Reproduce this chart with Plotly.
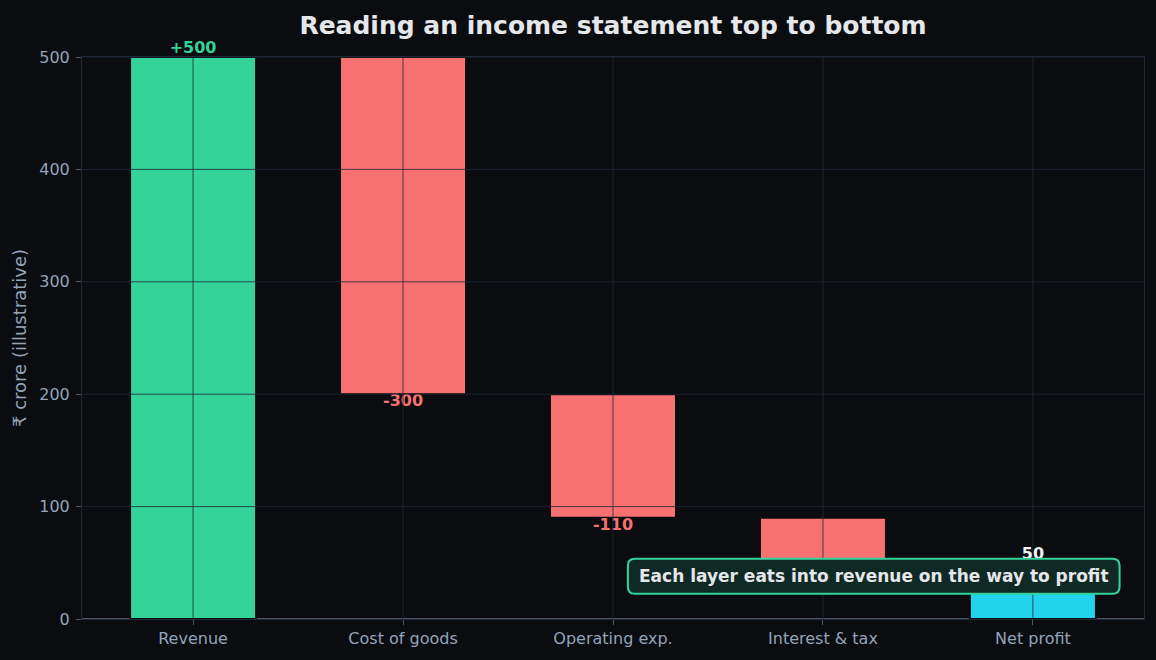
import plotly.graph_objects as go

categories = ["Revenue", "Cost of goods", "Operating exp.", "Interest & tax", "Net profit"]
values = [500, -300, -110, -40, 50]
measures = ["relative", "relative", "relative", "relative", "total"]
y_ticks = [0, 100, 200, 300, 400, 500]

BG = "#0b0c10"
GREEN = "#34d399"
RED = "#f87171"
CYAN = "#22d3ee"
GRID = "rgba(31,41,55,0.8)"
FONT = "DejaVu Sans"

labels, label_colors, label_y, label_pos = [], [], [], []
running = 0
for v, m in zip(values, measures):
    if m == "total":
        end = v
        labels.append(f"{v}")
        label_colors.append("#f1f5f9")
        label_pos.append("top center")
    else:
        end = running + v
        if v >= 0:
            labels.append(f"+{v}")
            label_colors.append(GREEN)
            label_pos.append("top center")
        else:
            labels.append(f"{v}")
            label_colors.append(RED)
            label_pos.append("bottom center")
    running = end
    label_y.append(end)

fig = go.Figure(go.Waterfall(
    x=categories,
    y=values,
    measure=measures,
    increasing=dict(marker=dict(color=GREEN, line=dict(color=BG, width=2))),
    decreasing=dict(marker=dict(color=RED, line=dict(color=BG, width=2))),
    totals=dict(marker=dict(color=CYAN, line=dict(color=BG, width=2))),
    connector=dict(visible=False),
    width=0.6,
    showlegend=False,
    hoverinfo="skip",
))
fig.add_trace(go.Scatter(
    x=categories, y=label_y, mode="text", text=labels, textposition=label_pos,
    textfont=dict(color=label_colors, size=16, family=FONT, weight="bold"),
    cliponaxis=False, showlegend=False, hoverinfo="skip",
))

# gridlines drawn above the bars
shapes = []
for t in y_ticks[1:]:
    shapes.append(dict(type="line", xref="paper", x0=0, x1=1, yref="y", y0=t, y1=t,
                       line=dict(color=GRID, width=1), layer="above"))
for c in categories:
    shapes.append(dict(type="line", xref="x", x0=c, x1=c, yref="paper", y0=0, y1=1,
                       line=dict(color=GRID, width=1), layer="above"))

# rounded callout box (paper coordinates)
bx0, bx1, by0, by1 = 0.514, 0.977, 0.045, 0.107
rx, ry = 0.0065, 0.0125
path = (f"M {bx0+rx},{by0} L {bx1-rx},{by0} Q {bx1},{by0} {bx1},{by0+ry} "
        f"L {bx1},{by1-ry} Q {bx1},{by1} {bx1-rx},{by1} "
        f"L {bx0+rx},{by1} Q {bx0},{by1} {bx0},{by1-ry} "
        f"L {bx0},{by0+ry} Q {bx0},{by0} {bx0+rx},{by0} Z")
shapes.append(dict(type="path", path=path, xref="paper", yref="paper",
                   fillcolor="#0f2a24", line=dict(color=GREEN, width=2), layer="above"))

fig.update_layout(
    width=1156, height=660,
    paper_bgcolor=BG, plot_bgcolor=BG,
    margin=dict(l=82, r=12, t=57, b=41),
    font=dict(family=FONT, color="#94a3b8", size=15),
    title=dict(text="<b>Reading an income statement top to bottom</b>",
               x=0.5, xref="paper", xanchor="center", y=1 - 25 / 660, yref="container",
               yanchor="middle", font=dict(size=25, color="#e5e7eb")),
    shapes=shapes,
    annotations=[dict(
        text="<b>Each layer eats into revenue on the way to profit</b>",
        xref="paper", yref="paper", x=(bx0 + bx1) / 2, y=(by0 + by1) / 2,
        xanchor="center", yanchor="middle",
        showarrow=False, font=dict(size=17, color="#e5e7eb"),
    )],
)
fig.update_xaxes(
    type="category", range=[-0.529, 4.529], showgrid=False, showline=True,
    linecolor="#1f2937", mirror=True,
    ticks="outside", ticklen=5, tickcolor="#4b5563",
    tickfont=dict(size=16, color="#94a3b8"),
)
fig.update_yaxes(
    range=[0, 500], tickvals=y_ticks, showgrid=False,
    showline=True, linecolor="#1f2937", mirror=True,
    zeroline=True, zerolinecolor="#4b5563", zerolinewidth=2,
    ticks="outside", ticklen=5, tickcolor="#4b5563", ticklabelstandoff=3,
    tickfont=dict(size=16, color="#94a3b8"),
    title=dict(text="₹ crore (illustrative)", font=dict(size=18, color="#94a3b8"), standoff=7),
)

fig.write_html("out.html")
